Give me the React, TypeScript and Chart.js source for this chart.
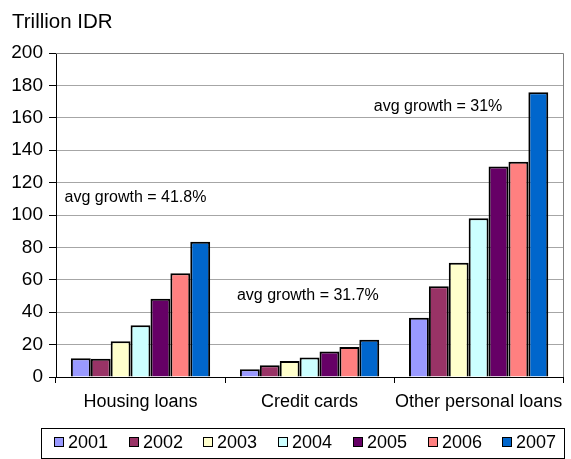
import { useEffect, useRef } from "react";
import { Chart, registerables } from "chart.js";

Chart.register(...registerables);

const categories = ["Housing loans", "Credit cards", "Other personal loans"];
const years = ["2001", "2002", "2003", "2004", "2005", "2006", "2007"];
const values2001 = [11.5, 4.8, 36.5];
const values2002 = [11.3, 7.3, 56];
const values2003 = [22, 9.8, 70.5];
const values2004 = [32, 12, 98];
const values2005 = [48.3, 15.8, 130];
const values2006 = [64, 18.5, 132.8];
const values2007 = [83.5, 23, 175.8];
const seriesValues = [values2001, values2002, values2003, values2004, values2005, values2006, values2007];
const seriesColors = ["#9999FF", "#993366", "#FFFFCC", "#CCFFFF", "#660066", "#FF8080", "#0066CC"];
const yMin = 0;
const yMax = 200;
const yStep = 20;
const titleText = "Trillion IDR";
const annotationTexts = ["avg growth = 41.8%", "avg growth = 31.7%", "avg growth = 31%"];
const annotationX = [-0.03, 0.99, 1.76];
const annotationY = [111, 50.5, 167];

const FONT = "'Liberation Sans', Arial, sans-serif";

const extrasPlugin = {
  id: "extras",
  beforeDraw(chart: any) {
    const ctx = chart.ctx;
    ctx.save();
    ctx.fillStyle = "#ffffff";
    ctx.fillRect(0, 0, chart.width, chart.height);
    ctx.restore();
  },
  afterDraw(chart: any) {
    const ctx = chart.ctx;
    const area = chart.chartArea;
    const xs = chart.scales.x;
    const ys = chart.scales.y;
    ctx.save();
    // plot border top & right
    ctx.strokeStyle = "#808080";
    ctx.lineWidth = 1;
    ctx.beginPath();
    ctx.moveTo(area.left, Math.round(area.top) + 0.5);
    ctx.lineTo(Math.round(area.right) + 0.5, Math.round(area.top) + 0.5);
    ctx.lineTo(Math.round(area.right) + 0.5, area.bottom);
    ctx.stroke();

    // title
    ctx.fillStyle = "#000";
    ctx.font = `20.5px ${FONT}`;
    ctx.textAlign = "left";
    ctx.textBaseline = "middle";
    ctx.fillText(titleText, 12, 22);

    // annotations
    ctx.font = `16px ${FONT}`;
    ctx.textAlign = "center";
    annotationTexts.forEach((t, i) => {
      const x = xs.getPixelForValue(annotationX[i]);
      const y = ys.getPixelForValue(annotationY[i]);
      ctx.fillText(t, x, y);
    });

    // legend
    const lLeft = 41, lRight = 564, lTop = 428, lBottom = 458;
    ctx.strokeStyle = "#000";
    ctx.lineWidth = 1;
    ctx.strokeRect(lLeft + 0.5, lTop + 0.5, lRight - lLeft, lBottom - lTop);
    const step = (lRight - lLeft) / chart.data.datasets.length;
    const cy = 442;
    ctx.font = `18px ${FONT}`;
    ctx.textAlign = "left";
    ctx.textBaseline = "middle";
    chart.data.datasets.forEach((ds: any, i: number) => {
      const bx = Math.round(lLeft + 13 + i * step);
      ctx.fillStyle = ds.backgroundColor;
      ctx.fillRect(bx, cy - 5, 10, 10);
      ctx.strokeStyle = "#000";
      ctx.strokeRect(bx + 0.5, cy - 4.5, 9, 9);
      ctx.fillStyle = "#000";
      ctx.fillText(ds.label, bx + 14, cy + 1);
    });
    ctx.restore();
  },
};

export default function App() {
  const ref = useRef<HTMLCanvasElement | null>(null);
  useEffect(() => {
    document.body.style.margin = "0";
    if (!ref.current) return;
    const chart = new Chart(ref.current, {
      type: "bar",
      data: {
        labels: categories,
        datasets: years.map((y, i) => ({
          label: y,
          data: seriesValues[i],
          backgroundColor: seriesColors[i],
          borderColor: "#000000",
          borderWidth: 2,
          categoryPercentage: 0.824,
          barPercentage: 1,
        })),
      },
      options: {
        animation: false,
        responsive: false,
        maintainAspectRatio: false,
        layout: { padding: { left: 0, right: 5, top: 53, bottom: 0 } },
        plugins: {
          legend: { display: false },
          title: { display: false },
          tooltip: { enabled: false },
        },
        scales: {
          x: {
            afterFit: (s: any) => { s.height = 82; },
            grid: { offset: true, drawOnChartArea: false, drawTicks: true, tickLength: 6, color: "#000" },
            border: { color: "#000", width: 1 },
            ticks: { color: "#000", font: { family: FONT, size: 18 }, padding: 8, maxRotation: 0, autoSkip: false },
          },
          y: {
            min: yMin,
            max: yMax,
            afterFit: (s: any) => { s.width = 56; },
            grid: { color: "#a6a6a6", tickColor: "#000", tickLength: 7, drawTicks: true },
            border: { color: "#000", width: 1 },
            ticks: { stepSize: yStep, color: "#000", font: { family: FONT, size: 19 }, padding: 6 },
          },
        },
      },
      plugins: [extrasPlugin],
    });
    return () => chart.destroy();
  }, []);
  return (
    <div style={{ width: 571, height: 459 }}>
      <canvas ref={ref} width={571} height={459} style={{ display: "block" }} />
    </div>
  );
}
